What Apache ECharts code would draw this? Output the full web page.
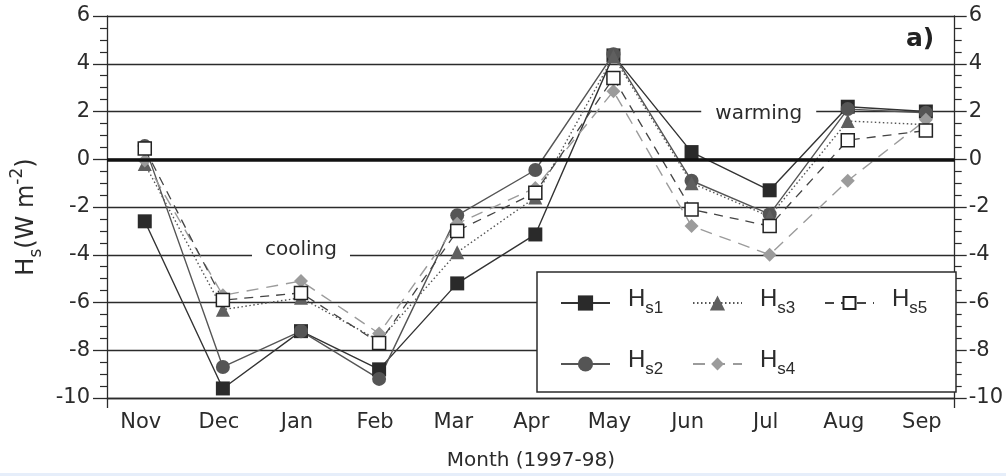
<!DOCTYPE html>
<html>
<head>
<meta charset="utf-8">
<script src="https://cdn.jsdelivr.net/npm/echarts@6/dist/echarts.min.js"></script>
<style>
  html, body { margin: 0; padding: 0; background: #ffffff; }
  #chart { width: 1006px; height: 476px; }
</style>
</head>
<body>
<div id="chart"></div>
<script>
// Monthly sensible heat flux estimates Hs1..Hs5 (W m-2), Nov 1997 - Sep 1998
const months = ['Nov', 'Dec', 'Jan', 'Feb', 'Mar', 'Apr', 'May', 'Jun', 'Jul', 'Aug', 'Sep'];
const hs1 = [-2.6, -9.6, -7.2, -8.8, -5.2, -3.15, 4.35, 0.3, -1.3, 2.2, 2.0];
const hs2 = [0.55, -8.7, -7.2, -9.2, -2.35, -0.45, 4.4, -0.9, -2.3, 2.1, 1.95];
const hs3 = [-0.2, -6.3, -5.8, -7.6, -3.9, -1.6, 4.3, -1.0, -2.4, 1.6, 1.45];
const hs4 = [-0.05, -5.7, -5.1, -7.3, -2.7, -1.2, 2.85, -2.8, -4.0, -0.9, 1.65];
const hs5 = [0.45, -5.9, -5.6, -7.7, -3.0, -1.4, 3.4, -2.1, -2.8, 0.8, 1.2];
const yMin = -10, yMax = 6, yStep = 2;

const FONT = 'DejaVu Sans';
const INK = '#2b2b2b';
const xMin = -0.4835, xMax = 10.369;

function pairs(vals) { return vals.map((v, i) => [i, v]); }

const chart = echarts.init(document.getElementById('chart'), null, { renderer: 'canvas' });

const legendText = {
  color: INK,
  padding: [0, 0, 8, 13],
  rich: {
    h: { fontFamily: 'Liberation Sans', fontSize: 24, lineHeight: 36, verticalAlign: 'middle', color: INK },
    s: { fontFamily: 'Liberation Sans', fontSize: 17, lineHeight: 10, verticalAlign: 'bottom', color: INK }
  }
};
function legendAt(name, left, top, itemHeight) {
  return {
    data: [name], left: left, top: top, padding: 0, itemWidth: 49, itemHeight: itemHeight,
    selectedMode: false, textStyle: legendText,
    formatter: n => '{h|H}{s|' + n.slice(1) + '}'
  };
}

const yAxisCommon = {
  type: 'value', min: yMin, max: yMax, interval: yStep,
  axisLine: { show: true, onZero: false, lineStyle: { color: INK, width: 1.3 } },
  axisTick: { show: true, length: 14, lineStyle: { color: INK, width: 1.3 } },
  minorTick: { show: true, splitNumber: 4, length: 7, lineStyle: { color: INK, width: 1.2 } },
  axisLabel: { fontFamily: FONT, fontSize: 21, color: INK }
};

const option = {
  animation: false,
  backgroundColor: '#ffffff',
  title: {
    text: 'a)', left: 906, top: 27, padding: 0,
    textStyle: { fontFamily: FONT, fontSize: 25, fontWeight: 'bold', color: '#222222' }
  },
  grid: { left: 107, right: 46, top: 16, bottom: 76, containLabel: false },
  xAxis: {
    type: 'value', min: xMin, max: xMax,
    axisLine: { show: true, onZero: false, lineStyle: { color: INK, width: 1.3 } },
    axisTick: { show: true, customValues: [xMin, xMax], length: 10, lineStyle: { color: INK, width: 1.3 } },
    splitLine: { show: false },
    axisLabel: {
      customValues: months.map((m, i) => i),
      formatter: v => months[Math.round(v)],
      fontFamily: FONT, fontSize: 21, color: INK, margin: 14, padding: [0, 8, 0, 0]
    },
    name: 'Month (1997-98)', nameLocation: 'middle', nameGap: 53,
    nameTextStyle: { fontFamily: FONT, fontSize: 20, color: INK }
  },
  yAxis: [
    Object.assign({}, yAxisCommon, {
      position: 'left',
      axisLabel: Object.assign({}, yAxisCommon.axisLabel, { margin: 17 }),
      splitLine: { show: true, lineStyle: { color: INK, width: 1.3 } },
      name: '{m|H}{sb|s}{m|(W m}{sp|-2}{m|)}',
      nameLocation: 'middle', nameGap: 62,
      nameTextStyle: {
        color: INK, padding: [0, 20, 0, 0],
        rich: {
          m: { fontFamily: FONT, fontSize: 24, lineHeight: 36, verticalAlign: 'middle', color: INK },
          sb: { fontFamily: FONT, fontSize: 17, lineHeight: 12, verticalAlign: 'bottom', color: INK },
          sp: { fontFamily: FONT, fontSize: 17, lineHeight: 12, verticalAlign: 'top', color: INK }
        }
      }
    }),
    Object.assign({}, yAxisCommon, {
      position: 'right',
      axisTick: { show: true, length: 12, lineStyle: { color: INK, width: 1.3 } },
      axisLabel: Object.assign({}, yAxisCommon.axisLabel, { margin: 14 }),
      splitLine: { show: false }
    })
  ],
  legend: [
    legendAt('Hs1', 560, 287, 19),
    legendAt('Hs3', 692, 287, 19),
    legendAt('Hs5', 824, 287, 15),
    legendAt('Hs2', 560, 348, 19),
    legendAt('Hs4', 692, 348, 16)
  ],
  graphic: [
    {
      type: 'rect', z: 3, silent: true,
      shape: { x: 537, y: 272, width: 419, height: 120 },
      style: { fill: '#ffffff', stroke: INK, lineWidth: 1.5 }
    },
    {
      type: 'rect', z: 3, silent: true,
      shape: { x: 0, y: 473, width: 1006, height: 3 },
      style: { fill: '#e6eefa' }
    }
  ],
  series: [
    {
      name: 'Hs1', type: 'line', data: pairs(hs1),
      symbol: 'rect', symbolSize: 14,
      itemStyle: { color: '#2a2a2a' },
      lineStyle: { color: '#333333', width: 1.4 },
      markLine: {
        silent: true, symbol: 'none', label: { show: false },
        lineStyle: { color: '#111111', width: 3.5, type: 'solid' },
        data: [{ yAxis: 0 }]
      },
      markPoint: {
        silent: true,
        data: [
          { coord: [2.0, -3.8], value: 'cooling', symbolSize: [98, 22] },
          { coord: [7.86, 1.9], value: 'warming', symbolSize: [115, 22] }
        ],
        symbol: 'rect',
        itemStyle: { color: '#ffffff' },
        label: {
          show: true, position: 'inside', formatter: p => p.value,
          fontFamily: FONT, fontSize: 20, color: INK
        }
      }
    },
    {
      name: 'Hs2', type: 'line', data: pairs(hs2),
      symbol: 'circle', symbolSize: 14,
      itemStyle: { color: '#555555' },
      lineStyle: { color: '#555555', width: 1.4 }
    },
    {
      name: 'Hs3', type: 'line', data: pairs(hs3),
      symbol: 'triangle', symbolSize: 14,
      itemStyle: { color: '#5f5f5f' },
      lineStyle: { color: '#555555', width: 1.4, type: [1.5, 2.5] }
    },
    {
      name: 'Hs4', type: 'line', data: pairs(hs4),
      symbol: 'diamond', symbolSize: 14,
      itemStyle: { color: '#9b9b9b' },
      lineStyle: { color: '#9b9b9b', width: 1.4, type: [12, 8] }
    },
    {
      name: 'Hs5', type: 'line', data: pairs(hs5),
      symbol: 'rect', symbolSize: 13,
      itemStyle: { color: '#ffffff', borderColor: '#222222', borderWidth: 1.5 },
      lineStyle: { color: '#444444', width: 1.3, type: [9, 7] }
    }
  ]
};

chart.setOption(option);
</script>
</body>
</html>
